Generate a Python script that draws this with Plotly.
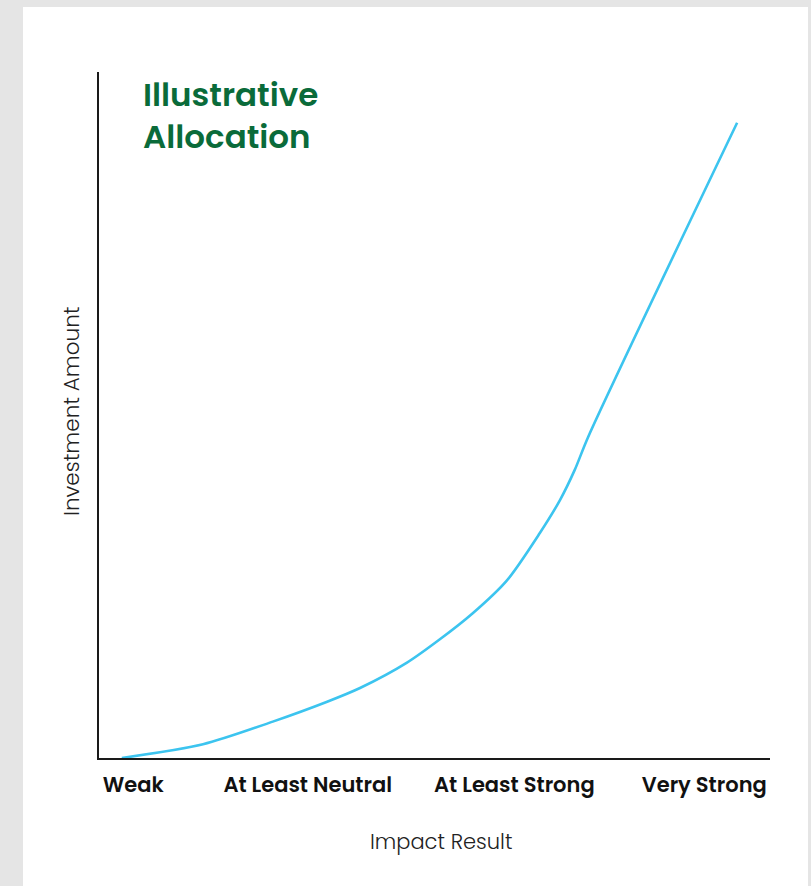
import plotly.graph_objects as go

# Allocation curve (impact score on 0-100 scale vs. relative investment amount)
impact_score = [3.4, 15.5, 25.9, 34.0, 38.9, 45.9, 50.8, 55.7, 60.8, 65.7, 68.7, 70.9, 72.9, 95.1]
investment = [0.0, 2.0, 5.3, 8.2, 10.2, 13.9, 17.3, 21.1, 25.9, 32.8, 37.6, 42.0, 46.8, 92.6]

# Impact result categories along the x axis
tick_positions = [5.1, 31.1, 61.9, 90.2]
tick_labels = ["Weak", "At Least Neutral", "At Least Strong", "Very Strong"]

title_lines = ["Illustrative", "Allocation"]

W, H = 811, 886
L, R, T, B = 99, 41, 72, 128
PW, PH = W - L - R, H - T - B


def px_x(px):
    return (px - L) / PW


def px_y(py):
    return (H - B - py) / PH


FONT = "Poppins, Inter, Lato, sans-serif"

fig = go.Figure()
fig.add_trace(go.Scatter(
    x=impact_score, y=investment, mode="lines",
    line=dict(color="#3cc4ef", width=2.6, shape="spline", smoothing=0.8),
    hoverinfo="skip", showlegend=False,
))

annotations = [
    dict(
        text="<br>".join(title_lines), xref="paper", yref="paper",
        x=px_x(142), y=px_y(115), xanchor="left", yanchor="middle",
        align="left", showarrow=False, borderpad=0,
        font=dict(family=FONT, size=32.5, color="#0a6b3a", weight=600),
    ),
    dict(
        text="Impact Result", xref="paper", yref="paper",
        x=px_x(441), y=px_y(842), xanchor="center", yanchor="middle",
        showarrow=False,
        font=dict(family=FONT, size=21, color="#222222", weight=300),
    ),
    dict(
        text="Investment Amount", xref="paper", yref="paper",
        x=px_x(71), y=px_y(412), xanchor="center", yanchor="middle",
        textangle=-90, showarrow=False,
        font=dict(family=FONT, size=21.5, color="#222222", weight=300),
    ),
]

fig.update_layout(
    width=W, height=H,
    margin=dict(l=L, r=R, t=T, b=B),
    paper_bgcolor="#e5e5e5",
    plot_bgcolor="white",
    font=dict(family=FONT, color="#111111"),
    xaxis=dict(
        range=[0, 100], showgrid=False, zeroline=False,
        showline=True, linecolor="#1a1a1a", linewidth=1.5,
        tickmode="array", tickvals=tick_positions, ticktext=tick_labels,
        ticks="", ticklabelstandoff=7,
        tickfont=dict(family=FONT, size=21, color="#111111", weight=600),
        fixedrange=True,
    ),
    yaxis=dict(
        range=[0, 100], showgrid=False, zeroline=False,
        showline=True, linecolor="#1a1a1a", linewidth=1.5,
        showticklabels=False, ticks="", fixedrange=True,
    ),
    shapes=[dict(
        type="rect", xref="paper", yref="paper", layer="below",
        x0=px_x(23), x1=px_x(808), y0=px_y(886), y1=px_y(7),
        fillcolor="white", line=dict(width=0),
    )],
    annotations=annotations,
)

fig.write_html("out.html")
